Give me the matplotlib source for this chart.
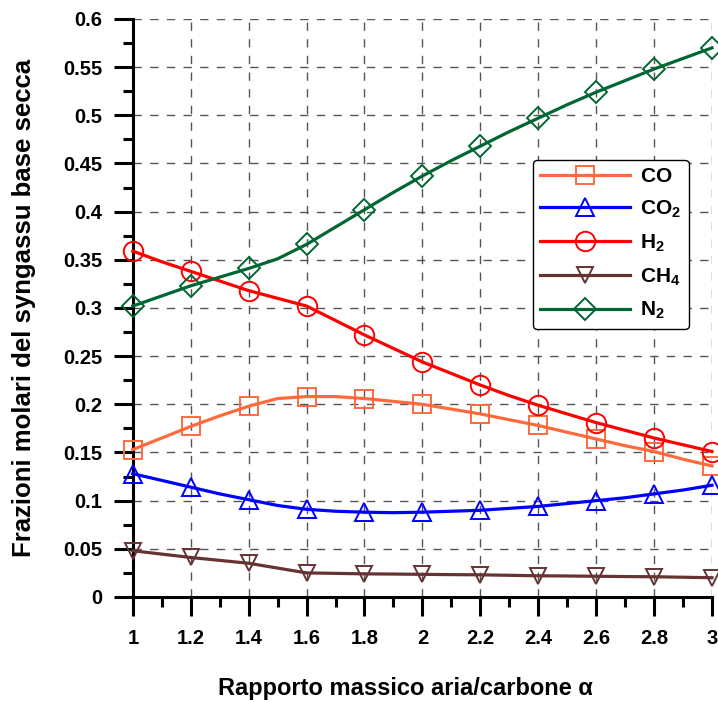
import numpy as np
import matplotlib.pyplot as plt
from matplotlib.ticker import MultipleLocator, FormatStrFormatter

plt.rcParams['font.family'] = ['Liberation Sans', 'DejaVu Sans']
plt.rcParams['font.weight'] = 'bold'
plt.rcParams['mathtext.fontset'] = 'custom'
plt.rcParams['mathtext.bf'] = 'Liberation Sans:bold'
plt.rcParams['mathtext.rm'] = 'Liberation Sans:bold'

# rapporto aria/carbone (passo 0.1, marcatori ogni 0.2)
alpha = [1.0, 1.1, 1.2, 1.3, 1.4, 1.5, 1.6, 1.7, 1.8, 1.9, 2.0,
         2.1, 2.2, 2.3, 2.4, 2.5, 2.6, 2.7, 2.8, 2.9, 3.0]

co = [0.153, 0.165, 0.177, 0.188, 0.198, 0.206, 0.208, 0.208, 0.206, 0.203, 0.200,
      0.195, 0.190, 0.184, 0.178, 0.171, 0.164, 0.157, 0.151, 0.143, 0.136]
co2 = [0.128, 0.121, 0.114, 0.107, 0.101, 0.095, 0.091, 0.089, 0.088, 0.0875, 0.088,
       0.089, 0.090, 0.092, 0.094, 0.097, 0.100, 0.103, 0.107, 0.111, 0.116]
h2 = [0.359, 0.348, 0.338, 0.328, 0.318, 0.310, 0.302, 0.287, 0.272, 0.258, 0.244,
      0.232, 0.220, 0.209, 0.199, 0.190, 0.181, 0.173, 0.165, 0.158, 0.151]
ch4 = [0.048, 0.0445, 0.041, 0.038, 0.035, 0.030, 0.025, 0.0245, 0.024, 0.0238, 0.0235,
       0.0232, 0.023, 0.0225, 0.022, 0.0218, 0.0215, 0.0212, 0.021, 0.0205, 0.020]
n2 = [0.302, 0.3125, 0.323, 0.332, 0.341, 0.351, 0.366, 0.384, 0.402, 0.420, 0.437,
      0.453, 0.468, 0.483, 0.497, 0.511, 0.524, 0.536, 0.548, 0.559, 0.570]

series = [
    (r'$\mathbf{CO}$', co, '#FF6A3D', 's', 13),
    (r'$\mathbf{CO_2}$', co2, '#0000FF', '^', 13),
    (r'$\mathbf{H_2}$', h2, '#FF0000', 'o', 14),
    (r'$\mathbf{CH_4}$', ch4, '#663333', 'v', 12),
    (r'$\mathbf{N_2}$', n2, '#006633', 'D', 11),
]

fig = plt.figure(figsize=(7.18, 7.02), dpi=100)
ax = fig.add_axes([0.185, 0.1496, 0.8066, 0.8234])

for name, vals, col, mk, ms in series:
    ax.plot(alpha, vals, color=col, lw=2.3, marker=mk, markevery=2, ms=ms,
            mfc='none', mec=col, mew=1.4, label=name, clip_on=False, zorder=3)

ax.set_xlim(1, 3)
ax.set_ylim(0, 0.6)
ax.xaxis.set_major_locator(MultipleLocator(0.2))
ax.xaxis.set_minor_locator(MultipleLocator(0.1))
ax.yaxis.set_major_locator(MultipleLocator(0.05))
ax.yaxis.set_minor_locator(MultipleLocator(0.025))
ax.xaxis.set_major_formatter(FormatStrFormatter('%g'))
ax.yaxis.set_major_formatter(FormatStrFormatter('%g'))

ax.grid(True, which='major', color='#555555', ls=(0, (6, 6)), lw=1.0, zorder=0)
for s in ['top', 'right']:
    ax.spines[s].set_visible(False)
for s in ['left', 'bottom']:
    ax.spines[s].set_linewidth(2.2)

ax.tick_params(which='major', direction='out', length=14, width=2.2, labelsize=14.5, pad=8)
ax.tick_params(which='minor', direction='out', length=7, width=2.2)
ax.tick_params(axis='x', which='major', pad=9)

ax.set_xlabel('Rapporto massico aria/carbone α', fontsize=17, fontweight='bold')
ax.xaxis.set_label_coords(0.4715, -0.138)
ax.set_ylabel('Frazioni molari del syngassu base secca', fontsize=18.5, fontweight='bold')
ax.yaxis.set_label_coords(-0.168, 0.5)

leg = ax.legend(loc='upper left', bbox_to_anchor=(533 / 718, 1 - 160 / 702),
                bbox_transform=fig.transFigure, fontsize=15,
                handlelength=4.3, frameon=True, fancybox=True, edgecolor='black',
                framealpha=1, borderpad=0.35, borderaxespad=0, labelspacing=0.6,
                handletextpad=0.5)
leg.get_frame().set_linewidth(1.0)

fig.savefig('out.png', dpi=100)
